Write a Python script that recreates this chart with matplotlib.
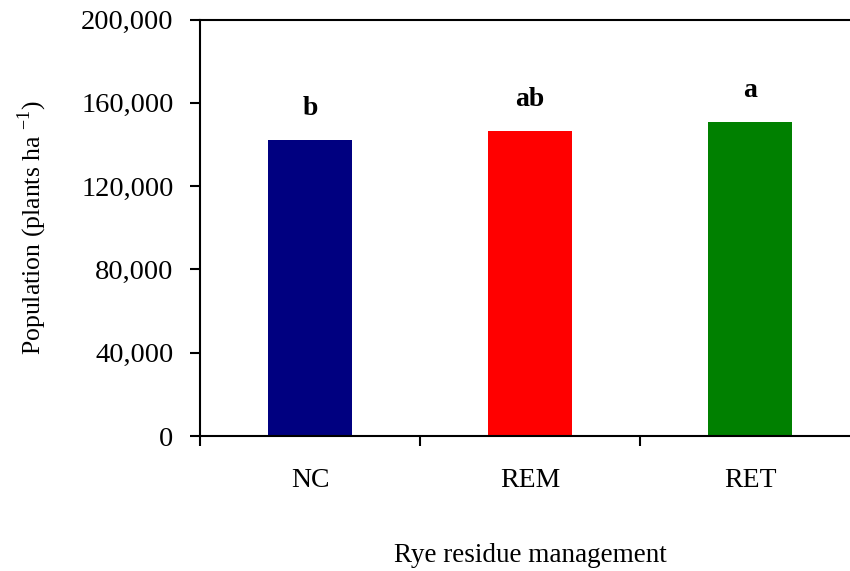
import matplotlib.pyplot as plt
import numpy as np

plt.rcParams['font.family'] = ['Liberation Serif', 'DejaVu Serif']
plt.rcParams['mathtext.fontset'] = 'custom'
plt.rcParams['mathtext.rm'] = 'Liberation Serif'

# plant population by rye residue treatment
treatments = ['NC', 'REM', 'RET']
population = [142000, 146500, 151000]
letters = ['b', 'ab', 'a']
bar_colors = ['#000080', '#ff0000', '#008000']

fig = plt.figure(figsize=(8.5, 5.71), dpi=100)
ax = fig.add_axes([0.2353, 0.2364, 0.7765, 0.7294])

x = np.arange(len(treatments))
bars = ax.bar(x, population, width=0.386, color=bar_colors)

for xi, val, lab in zip(x, population, letters):
    ax.annotate(lab, (xi, val), xytext=(0, 18), textcoords='offset points',
                ha='center', va='baseline', fontsize=20, fontweight='bold')

ax.set_xlim(-0.5, 2.5)
ax.set_ylim(0, 200000)
ax.set_yticks(np.arange(0, 200001, 40000))
ax.set_yticklabels([f'{v:,}' for v in range(0, 200001, 40000)], fontsize=20.5)
ax.set_xticks(x)
ax.set_xticklabels(treatments, fontsize=20)
ax.set_xticks(np.arange(-0.5, 3, 1), minor=True)

ax.tick_params(axis='x', which='major', length=0, pad=23)
ax.tick_params(axis='x', which='minor', direction='out', length=7, width=1.5)
ax.tick_params(axis='y', direction='out', length=7, width=1.5, pad=12)

for side in ['left', 'bottom', 'top', 'right']:
    ax.spines[side].set_linewidth(1.5)

ax.set_ylabel('Population (plants ha $^{\\mathregular{-1}}$)', fontsize=18.5, labelpad=23)
ax.set_xlabel('Rye residue management', fontsize=19.5, labelpad=36)

fig.savefig('out.png', dpi=100)
